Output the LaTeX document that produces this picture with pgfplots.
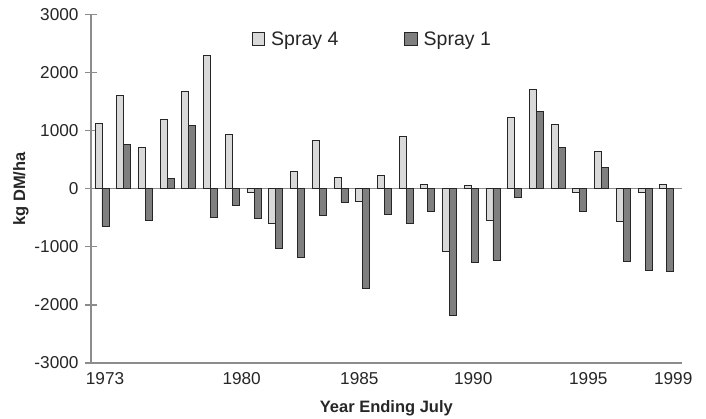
\documentclass[border=0pt]{standalone}
\usepackage{fontspec}
\setmainfont{Liberation Sans}
\usepackage{pgfplots}
\pgfplotsset{compat=1.18}
\definecolor{lightbar}{HTML}{D9D9D9}
\definecolor{darkbar}{HTML}{7F7F7F}
\definecolor{axisgray}{HTML}{8C8C8C}
\definecolor{txt}{HTML}{262626}
\begin{document}
\begin{tikzpicture}[x=1pt,y=1pt]
\useasboundingbox (-91,-56) rectangle (615,363);
\begin{axis}[
  at={(0,0)}, anchor=south west,
  scale only axis, width=590.7pt, height=348.3pt,
  xmin=-0.506, xmax=26.69, ymin=-3000, ymax=3000,
  ybar=0pt, bar width=7pt,
  axis x line*=bottom, axis y line*=left,
  axis line style={axisgray, line width=1.2pt},
  ytick={-3000,-2000,-1000,0,1000,2000,3000},
  yticklabels={-3000,-2000,-1000,0,1000,2000,3000},
  xtick={0.14,6.43,11.85,17.09,22.39,26.30},
  xticklabels={1973,1980,1985,1990,1995,1999},
  tick align=center, major tick length=11pt,
  ytick style={axisgray, line width=1.2pt},
  xtick style={draw=none},
  tick label style={font=\fontsize{17.2}{19}\selectfont, text=txt},
  yticklabel style={xshift=-3.5pt},
  extra y ticks={0}, extra y tick labels={},
  extra y tick style={grid=major, major grid style={axisgray, line width=0.8pt}, ytick style={draw=none}},
  xlabel={Year Ending July}, ylabel={kg DM/ha},
  label style={font=\fontsize{16.5}{19}\selectfont\bfseries, text=txt},
  xlabel style={at={(axis description cs:0.5,0)}, anchor=base, yshift=-49.5pt},
  ylabel style={at={(axis description cs:-0.1186,0.5)}, anchor=center},
  legend style={at={(axis description cs:0.272,0.957)}, anchor=north west, draw=none, fill=none, inner sep=0pt,
    font=\fontsize{19.5}{22}\selectfont, text=txt, legend columns=2,
    /tikz/every odd column/.append style={column sep=4pt},
    /tikz/every even column/.append style={column sep=64pt}},
  legend image code/.code={\draw[#1, line width=0.8pt] (0pt,-5.5pt) rectangle (12.5pt,7pt);},
]
\addplot[draw=black!85, line width=0.8pt, fill=lightbar] coordinates {
(0,1120) (1,1606) (2,714) (3,1189) (4,1686) (5,2303) (6,943) (7,-69) (8,-600)
(9,303) (10,840) (11,194) (12,-212) (13,229) (14,903) (15,69) (16,-1075) (17,57)
(18,-549) (19,1234) (20,1714) (21,1114) (22,-57) (23,640) (24,-561) (25,-65) (26,74)};
\addplot[draw=black!85, line width=0.8pt, fill=darkbar] coordinates {
(0,-652) (1,771) (2,-538) (3,177) (4,1097) (5,-487) (6,-284) (7,-509) (8,-1029)
(9,-1173) (10,-458) (11,-226) (12,-1715) (13,-441) (14,-595) (15,-384) (16,-2173) (17,-1270)
(18,-1230) (19,-154) (20,1331) (21,720) (22,-384) (23,371) (24,-1252) (25,-1401) (26,-1430)};
\legend{Spray 4, Spray 1}
\end{axis}
\end{tikzpicture}
\end{document}
